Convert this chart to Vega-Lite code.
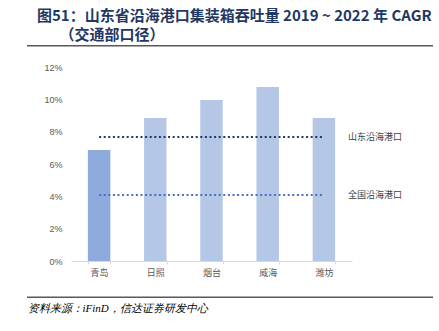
{
  "$schema": "https://vega.github.io/schema/vega-lite/v6.json",
  "width": 281,
  "height": 194,
  "autosize": {"type": "none"},
  "padding": {"left": 71, "top": 67, "right": 87, "bottom": 70},
  "background": "white",
  "config": {
    "view": {"stroke": null},
    "font": "Liberation Sans",
    "axis": {"labelOverlap": false}
  },
  "title": {
    "text": ["图51：山东省沿海港口集装箱吞吐量 2019 ~ 2022 年 CAGR", "\u200b\u3000\u3000（交通部口径）"],
    "anchor": "start",
    "frame": "group",
    "dx": -34,
    "offset": 2,
    "font": "Noto Sans CJK SC",
    "fontSize": 15,
    "fontWeight": "bold",
    "color": "#1f3864",
    "lineHeight": 19
  },
  "resolve": {"axis": {"x": "independent", "y": "independent"}},
  "layer": [
    {
      "data": {"values": [{"line": "top"}]},
      "mark": {"type": "rect", "color": "#595959", "opacity": 1},
      "encoding": {
        "x": {"value": -44},
        "x2": {"value": 362},
        "y": {"value": -22},
        "y2": {"value": -20.5}
      }
    },
    {
      "data": {"values": [{"line": "bottom"}]},
      "mark": {"type": "rect", "color": "#595959", "opacity": 1},
      "encoding": {
        "x": {"value": -44},
        "x2": {"value": 362},
        "y": {"value": 229.5},
        "y2": {"value": 231}
      }
    },
    {
      "data": {"values": [
        {"city": "青岛", "cagr": 0.0687},
        {"city": "日照", "cagr": 0.0885},
        {"city": "烟台", "cagr": 0.0996},
        {"city": "威海", "cagr": 0.1076},
        {"city": "潍坊", "cagr": 0.0885}
      ]},
      "mark": {"type": "bar"},
      "encoding": {
        "x": {
          "field": "city", "type": "nominal", "sort": null,
          "scale": {"paddingInner": 0.6, "paddingOuter": 0.3},
          "axis": {
            "title": "资料来源：iFinD，信达证券研发中心",
            "titleAnchor": "start", "titleX": -44, "titleY": 47, "titleBaseline": "middle",
            "titleFont": "Liberation Serif", "titleFontStyle": "italic", "titleFontWeight": "normal",
            "titleFontSize": 11, "titleColor": "#000000",
            "labelAngle": 0, "labelFont": "Noto Sans CJK SC", "labelFontSize": 9, "labelColor": "#595959",
            "labelPadding": 4, "domainColor": "#d9d9d9", "tickColor": "#d9d9d9", "tickSize": 3,
            "tickBand": "extent"
          }
        },
        "y": {
          "field": "cagr", "type": "quantitative",
          "scale": {"domain": [0, 0.12]},
          "axis": {
            "title": null, "values": [0, 0.02, 0.04, 0.06, 0.08, 0.1, 0.12], "format": ".0%",
            "labelOverlap": false,
            "domain": false, "ticks": false, "grid": false, "labelPadding": 9,
            "labelFont": "Liberation Sans", "labelFontSize": 9, "labelColor": "#595959"
          }
        },
        "color": {"condition": {"test": "datum.city === '青岛'", "value": "#8faadc"}, "value": "#b4c7e7"}
      }
    },
    {
      "data": {"values": [
        {"series": "山东沿海港口", "rate": 0.0767, "from": "青岛", "to": "潍坊"},
        {"series": "全国沿海港口", "rate": 0.0408, "from": "青岛", "to": "潍坊"}
      ]},
      "layer": [
        {
          "mark": {"type": "rule", "strokeWidth": 2, "strokeDash": [2, 2.6]},
          "encoding": {
            "x": {"field": "from", "type": "nominal", "sort": null, "axis": null},
            "x2": {"field": "to"},
            "y": {"field": "rate", "type": "quantitative", "axis": null},
            "color": {"field": "series", "type": "nominal", "legend": null,
              "scale": {"domain": ["山东沿海港口", "全国沿海港口"], "range": ["#1f3864", "#4472c4"]}}
          }
        },
        {
          "mark": {"type": "text", "align": "left", "baseline": "middle", "dx": 24, "font": "Noto Sans CJK SC", "fontSize": 9, "color": "#404040"},
          "encoding": {
            "x": {"field": "to", "type": "nominal", "sort": null, "axis": null},
            "y": {"field": "rate", "type": "quantitative", "axis": null},
            "text": {"field": "series"}
          }
        }
      ]
    }
  ]
}
